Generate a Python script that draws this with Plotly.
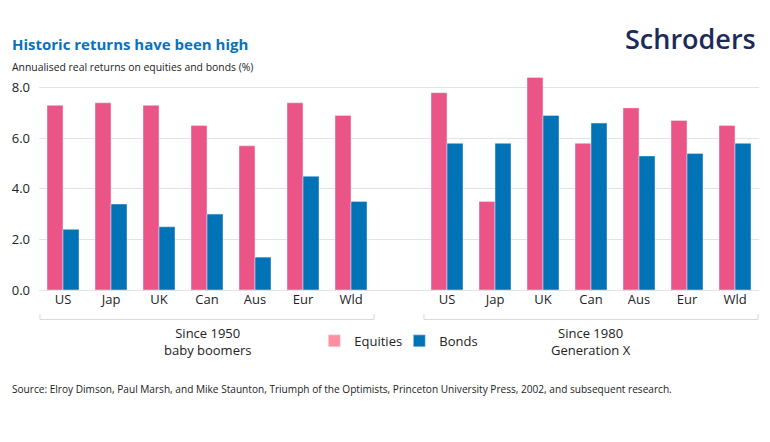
import plotly.graph_objects as go

markets = ["US", "Jap", "UK", "Can", "Aus", "Eur", "Wld"]
groups = ["Since 1950<br>baby boomers", "Since 1980<br>Generation X"]
equities_1950 = [7.3, 7.4, 7.3, 6.5, 5.7, 7.4, 6.9]
bonds_1950 = [2.4, 3.4, 2.5, 3.0, 1.3, 4.5, 3.5]
equities_1980 = [7.8, 3.5, 8.4, 5.8, 7.2, 6.7, 6.5]
bonds_1980 = [5.8, 5.8, 6.9, 6.6, 5.3, 5.4, 5.8]
y_ticks = [0, 2, 4, 6, 8]

PINK = "#EA5486"
PINK_LEGEND = "#FF8FA1"
BLUE = "#0072B6"
FONT = "Open Sans"

W, H = 770, 442
L, R, T, B = 38.7, 11.3, 74.6, 152
PW, PH = W - L - R, H - T - B


def px_x(px):
    return (px - L) / PW


def px_y(py):
    return (H - B - py) / PH


# positions: group 1 in slots 0..6, empty slot 7, group 2 in slots 8..14
n = len(markets)
x1 = list(range(n))
x2 = [n + 1 + i for i in range(n)]
xs = x1 + x2
eq = equities_1950 + equities_1980
bd = bonds_1950 + bonds_1980

fig = go.Figure()
fig.add_trace(go.Bar(x=xs, y=eq, name="Equities", marker_color=PINK,
                     offsetgroup="eq", showlegend=False))
fig.add_trace(go.Bar(x=xs, y=bd, name="Bonds", marker_color=BLUE,
                     offsetgroup="bd", showlegend=False))
# legend entries
fig.add_trace(go.Bar(x=[None], y=[None], name="Equities", marker_color=PINK_LEGEND,
                     offsetgroup="eq"))
fig.add_trace(go.Bar(x=[None], y=[None], name="Bonds", marker_color=BLUE,
                     offsetgroup="bd"))

fig.update_layout(
    width=W, height=H,
    margin=dict(l=L, r=R, t=T, b=B, pad=0),
    paper_bgcolor="white", plot_bgcolor="white",
    barmode="group", bargap=1/3, bargroupgap=0,
    font=dict(family=FONT, size=13, color="#222222"),
    title=dict(text="<b>Historic returns have been high</b>",
               x=12/W, xanchor="left", xref="container",
               y=1-45/H, yanchor="middle", yref="container",
               font=dict(family=FONT, size=15, color="#0B72B9")),
    legend=dict(orientation="h", x=px_x(314), xanchor="left", y=px_y(341), yanchor="middle",
                font=dict(family=FONT, size=13, color="#222222"),
                itemwidth=30, entrywidth=40, entrywidthmode="pixels",
                tracegroupgap=0, bgcolor="rgba(0,0,0,0)"),
    xaxis=dict(range=[-0.5, 2 * n + 0.5], tickvals=xs, ticktext=markets + markets,
               showgrid=False, zeroline=False, showline=False, ticks="",
               tickfont=dict(family=FONT, size=13, color="#222222")),
    yaxis=dict(range=[0, 8.5], tickvals=y_ticks,
               ticktext=[f"{v:.1f}" for v in y_ticks],
               showgrid=True, gridcolor="#E3E3E3", gridwidth=1,
               zeroline=True, zerolinecolor="#E3E3E3", zerolinewidth=1,
               ticks="", ticklabelstandoff=8,
               tickfont=dict(family=FONT, size=13, color="#222222")),
)

# group brackets
bracket_color = "#D9D9D9"
yb = px_y(319.5)
yt = px_y(314)
for lo, hi in [(-0.5, n - 0.5), (n + 0.5, 2 * n + 0.5)]:
    fig.add_shape(type="line", xref="x", yref="paper", x0=lo + 0.02, x1=hi - 0.02,
                  y0=yb, y1=yb, line=dict(color=bracket_color, width=1))
    for xe in (lo + 0.02, hi - 0.02):
        fig.add_shape(type="line", xref="x", yref="paper", x0=xe, x1=xe,
                      y0=yb, y1=yt, line=dict(color=bracket_color, width=1))

# group labels
for label, center in zip(groups, [(n - 1) / 2, n + 1 + (n - 1) / 2]):
    fig.add_annotation(text=label, x=center, xref="x", y=px_y(342),
                       yref="paper", yanchor="middle", showarrow=False,
                       font=dict(family=FONT, size=13, color="#222222"))

# subtitle
fig.add_annotation(text="Annualised real returns on equities and bonds (%)",
                   x=px_x(10), xref="paper", xanchor="left",
                   y=px_y(67), yref="paper", yanchor="middle", showarrow=False,
                   font=dict(family=FONT, size=10.4, color="#222222"))
# logo text
fig.add_annotation(text="Schroders", x=px_x(758), xanchor="right",
                   y=px_y(38), yanchor="middle", xref="paper", yref="paper",
                   showarrow=False,
                   font=dict(family=FONT, size=27, color="#1C2A5A", weight=600))
# source
fig.add_annotation(text="Source: Elroy Dimson, Paul Marsh, and Mike Staunton, Triumph of the Optimists, Princeton University Press, 2002, and subsequent research.",
                   x=px_x(10), xanchor="left", y=px_y(389), yanchor="middle",
                   xref="paper", yref="paper", showarrow=False,
                   font=dict(family=FONT, size=10.1, color="#222222"))

fig.write_html("out.html", config={"displayModeBar": False},
               post_script="document.body.style.margin='0';")
